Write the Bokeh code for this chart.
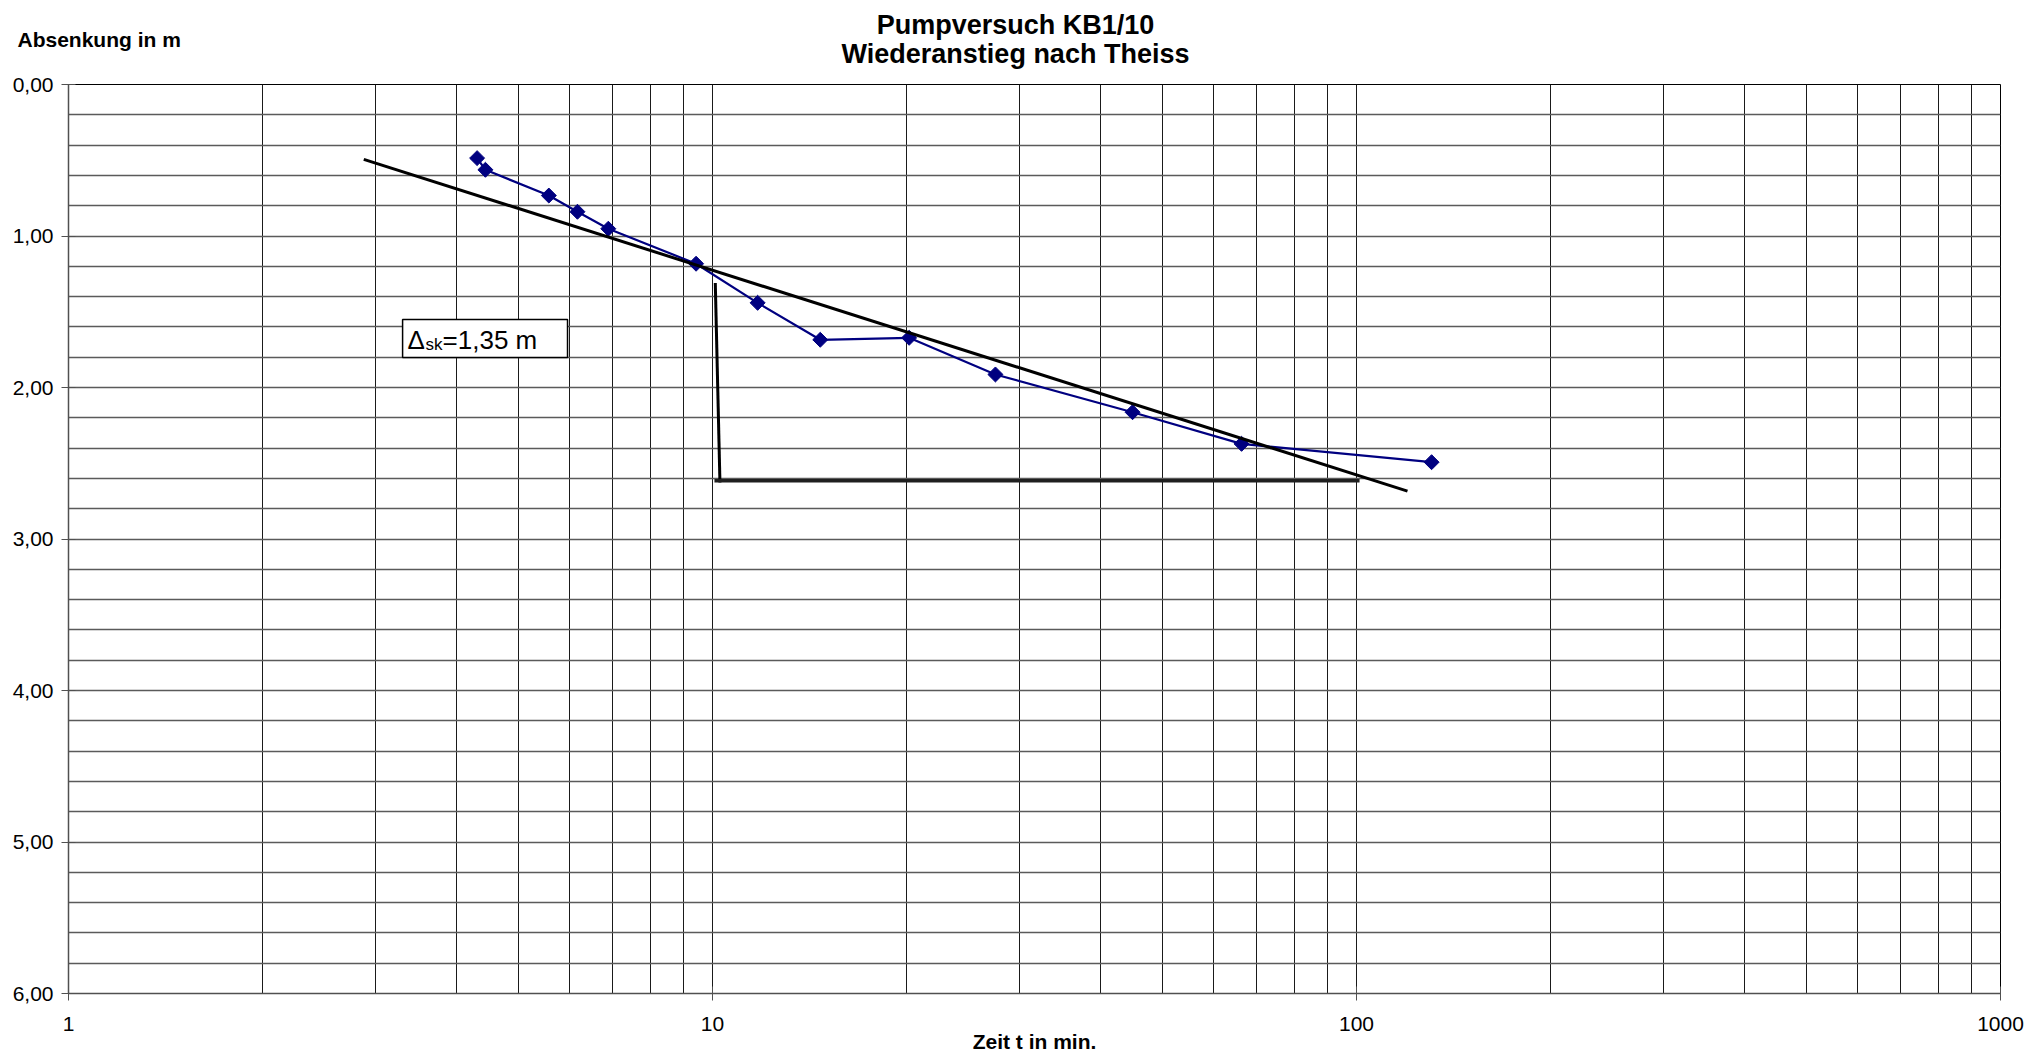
import numpy as np
from bokeh.plotting import figure
from bokeh.layouts import column
from bokeh.models import Range1d, FixedTicker
from bokeh.core.properties import value
from bokeh.embed import file_html
from bokeh.resources import INLINE

# Wiederanstieg: Zeit t (min) und Absenkung s (m)
zeit_t = [4.31, 4.44, 5.57, 6.17, 6.89, 9.43, 11.75, 14.7, 20.2, 27.5, 44.9, 66.3, 130.8]
absenkung = [0.486, 0.563, 0.733, 0.840, 0.952, 1.183, 1.441, 1.685, 1.672, 1.914, 2.163, 2.372, 2.493]

# Ausgleichsgerade (Steigung 1,35 m je Dekade)
gerade_t = [2.874, 120.0]
gerade_s = [0.494, 2.684]

# Steigungsdreieck
dreieck_senkrecht_t = [10.1, 10.27]
dreieck_senkrecht_s = [1.31, 2.627]
dreieck_waagerecht_t = [10.07, 101.1]
dreieck_waagerecht_s = [2.616, 2.616]

x_ticks = [1, 10, 100, 1000]
x_tick_labels = ["1", "10", "100", "1000"]
y_ticks = [0, 1, 2, 3, 4, 5, 6]
y_tick_labels = ["0,00", "1,00", "2,00", "3,00", "4,00", "5,00", "6,00"]

titel = ["Pumpversuch KB1/10", "Wiederanstieg nach Theiss"]
y_titel = "Absenkung in m"
x_titel = "Zeit t in min."

FONT = "Liberation Sans"
W = 2042
KOPF = 70

# Kopfzeile mit Diagrammtitel und Achsentitel der Absenkung (Pixelkoordinaten)
kopf = figure(width=W, height=KOPF, x_range=Range1d(0, W), y_range=Range1d(KOPF, 0),
              x_axis_location=None, y_axis_location=None,
              min_border=0, output_backend="svg", toolbar_location=None)
kopf.frame_align = False
kopf.outline_line_color = None
kopf.grid.visible = False
kopf.text(x=[1015, 1015], y=[24, 53], text=titel, text_align="center",
          text_baseline="alphabetic", text_font=value(FONT), text_font_style="bold",
          text_font_size="27px", text_color="black")
kopf.text(x=[17], y=[39], text=[y_titel], text_align="left",
          text_baseline="alphabetic", text_font=value(FONT), text_font_style="bold",
          text_font_size="21px", text_color="black")

# Hauptdiagramm
p = figure(width=W, height=1058 - KOPF, x_axis_type="log",
           x_range=Range1d(1, 1000), y_range=Range1d(6, 0),
           output_backend="svg", toolbar_location=None,
           min_border_left=68, min_border_right=42,
           min_border_top=14, min_border_bottom=65)
p.frame_align = False

p.outline_line_color = "black"
p.outline_line_width = 1

x_grid = [m * 10 ** e for e in range(3) for m in range(1, 10)] + [1000]
p.xgrid.ticker = FixedTicker(ticks=x_grid)
p.ygrid.ticker = FixedTicker(ticks=[i / 5 for i in range(31)])
p.xgrid.grid_line_color = "#1a1a1a"
p.xgrid.grid_line_width = 1
p.ygrid.grid_line_color = "#5a5a5a"
p.ygrid.grid_line_width = 1.3

p.xaxis.ticker = FixedTicker(ticks=x_ticks)
p.xaxis.major_label_overrides = dict(zip(x_ticks, x_tick_labels))
p.yaxis.ticker = FixedTicker(ticks=y_ticks)
p.yaxis.major_label_overrides = dict(zip(y_ticks, y_tick_labels))
for ax in (p.xaxis, p.yaxis):
    ax.axis_line_color = "#505050"
    ax.axis_line_width = 1.5
    ax.major_tick_line_color = "#505050"
    ax.major_tick_in = 7
    ax.major_tick_out = 7
    ax.minor_tick_line_color = None
    ax.major_label_text_font = FONT
    ax.major_label_text_font_size = "21px"
    ax.major_label_text_color = "black"
p.xaxis.major_label_standoff = 16
p.yaxis.major_label_standoff = 8
p.xaxis.axis_label = x_titel
p.xaxis.axis_label_text_font = FONT
p.xaxis.axis_label_text_font_style = "bold"
p.xaxis.axis_label_text_font_size = "21px"
p.xaxis.axis_label_text_color = "black"
p.xaxis.axis_label_standoff = -4

# Messwerte
p.line(zeit_t, absenkung, line_color="#000080", line_width=2.2)
p.scatter(zeit_t, absenkung, marker="square", angle=np.pi / 4, size=10.6,
          fill_color="#000080", line_color="#000080")

# Gerade und Dreieck
p.line(gerade_t, gerade_s, line_color="black", line_width=3)
p.line(dreieck_senkrecht_t, dreieck_senkrecht_s, line_color="black", line_width=3)
p.line(dreieck_waagerecht_t, dreieck_waagerecht_s, line_color="#202020", line_width=3.5)

# Textfeld mit der Steigung je Dekade
box_l, box_r, box_o, box_u = 3.302, 5.955, 1.551, 1.802
p.quad(left=[box_l], right=[box_r], top=[box_o], bottom=[box_u],
       fill_color="white", line_color="black", line_width=1.5)
p.text(x=[box_l], y=[1.684], text=["Δ"], x_offset=5, text_baseline="alphabetic",
       text_font=value(FONT), text_font_size="26px", text_color="black")
p.text(x=[box_l], y=[1.713], text=["sk"], x_offset=23, text_baseline="alphabetic",
       text_font=value(FONT), text_font_size="17px", text_color="black")
p.text(x=[box_l], y=[1.684], text=["=1,35 m"], x_offset=40, text_baseline="alphabetic",
       text_font=value(FONT), text_font_size="26px", text_color="black")

layout = column(kopf, p, spacing=0)
open("out.html", "w").write(file_html(layout, INLINE))
